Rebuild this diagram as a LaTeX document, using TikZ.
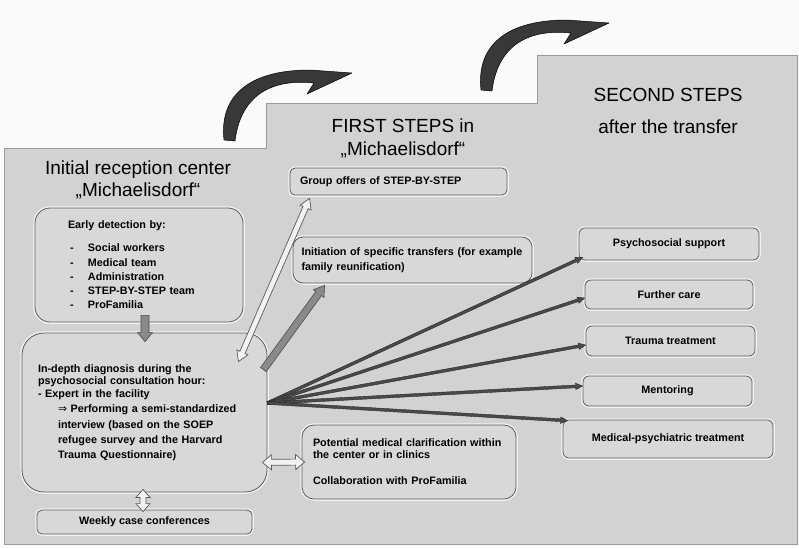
\documentclass[tikz,border=0pt]{standalone}
\usepackage{fontspec}
\setmainfont{Liberation Sans}
\newfontfamily\symfont{DejaVu Sans}
\usetikzlibrary{calc}
\definecolor{pagebg}{HTML}{FAFAFA}
\definecolor{stepbg}{HTML}{D2D2D2}
\definecolor{stepedge}{HTML}{9A9A9A}
\definecolor{boxfill}{HTML}{D8D8D8}
\definecolor{boxedge}{HTML}{5A5A5A}
\definecolor{arrowgray}{HTML}{8A8A8A}
\definecolor{fandark}{HTML}{4A4A4A}
\newcommand\boxfont{\bfseries\fontsize{10.8}{12.5}\selectfont}
\newcommand\titlefont{\fontsize{19}{22}\selectfont}
% single block arrow: style, tail, tip, shaft half width, head half width, head length
\newcommand\sarrow[6]{%
\draw[#1] ($(#2)!#4!90:(#3)$) -- ($(#3)!#6!(#2)!#4!-90:(#2)$) -- ($(#3)!#6!(#2)!#5!-90:(#2)$) -- (#3) -- ($(#3)!#6!(#2)!#5!90:(#2)$) -- ($(#3)!#6!(#2)!#4!90:(#2)$) -- ($(#2)!#4!-90:(#3)$) -- cycle;}
% double block arrow
\newcommand\darrow[6]{%
\draw[#1] (#2) -- ($(#2)!#6!(#3)!#5!90:(#3)$) -- ($(#2)!#6!(#3)!#4!90:(#3)$) -- ($(#3)!#6!(#2)!#4!-90:(#2)$) -- ($(#3)!#6!(#2)!#5!-90:(#2)$) -- (#3) -- ($(#3)!#6!(#2)!#5!90:(#2)$) -- ($(#3)!#6!(#2)!#4!90:(#2)$) -- ($(#2)!#6!(#3)!#4!-90:(#3)$) -- ($(#2)!#6!(#3)!#5!-90:(#3)$) -- cycle;}
\tikzset{
  box/.style={draw=boxedge, fill=boxfill, line width=0.8pt,
    preaction={draw=white, line width=3.5pt, opacity=0.75},
    font=\boxfont, inner sep=0pt},
  titletext/.style={font=\titlefont, align=center, inner sep=0pt},
  hollow/.style={fill=white!90!gray, draw=boxedge, line width=0.7pt},
  solidgray/.style={fill=arrowgray, draw=black!70, line width=0.6pt},
  fanarrow/.style={fill=fandark, draw=black!85, line width=0.4pt},
  curvearrow/.style={fill=black!78, draw=black, line width=0.5pt, line join=round},
}
\begin{document}
\begin{tikzpicture}[x=1pt,y=-1pt]
\useasboundingbox (0,0) rectangle (799,547);
\fill[pagebg] (0,0) rectangle (799,547);
% staircase background
\draw[stepedge, fill=stepbg, line width=0.8pt] (4,544) -- (4,148) -- (266,148) -- (266,103) -- (537,103) -- (537,55) -- (797,55) -- (797,544) -- cycle;
% curved transfer arrows
\path[curvearrow] (224,140) .. controls (219,95) and (250,70) .. (310,70) -- (352,73) -- (307,94) -- (314,83) .. controls (266,78) and (240,100) .. (235,141) -- cycle;
\begin{scope}[shift={(257,-50)}]
\path[curvearrow] (224,140) .. controls (219,95) and (250,70) .. (310,70) -- (352,73) -- (307,94) -- (314,83) .. controls (266,78) and (240,100) .. (235,141) -- cycle;
\end{scope}
% titles
\node[titletext] (t1) at (138,180) {Initial reception center\\„Michaelisdorf“};
\node[titletext] (t2) at (403,138) {FIRST STEPS in\\[1pt]„Michaelisdorf“};
\node[titletext] (t3) at (668,111) {SECOND STEPS\\[10pt]after the transfer};
% boxes, column 1
\node[box, rounded corners=15pt, minimum width=208pt, minimum height=114pt, text width=142pt, align=left,
  font={\bfseries\fontsize{10.8}{14.3}\selectfont}] (early) at (139,265)
  {Early detection by:\\[8.7pt]
   \hspace*{2pt}\makebox[18pt][l]{-}Social workers\\
   \hspace*{2pt}\makebox[18pt][l]{-}Medical team\\
   \hspace*{2pt}\makebox[18pt][l]{-}Administration\\
   \hspace*{2pt}\makebox[18pt][l]{-}STEP-BY-STEP team\\
   \hspace*{2pt}\makebox[18pt][l]{-}ProFamilia};
\node[box, rounded corners=22pt, minimum width=245pt, minimum height=159pt, text width=213pt, align=left] (indepth) at (144.5,412.5)
  {In-depth diagnosis during the\\
   psychosocial consultation hour:\\
   - Expert in the facility\\[2.5pt]
   \hspace*{20pt}{\symfont\mdseries ⇒} Performing a semi-standardized\\[3.3pt]
   \hspace*{20pt}interview (based on the SOEP\\[2.5pt]
   \hspace*{20pt}refugee survey and the Harvard\\[2.5pt]
   \hspace*{20pt}Trauma Questionnaire)};
\node[box, rounded corners=5pt, minimum width=215pt, minimum height=24pt] (weekly) at (144.5,522) {Weekly case conferences};
% boxes, column 2
\node[box, rounded corners=5pt, minimum width=217pt, minimum height=27pt, text width=197pt, align=left] (group) at (398.5,181.5) {Group offers of STEP-BY-STEP};
\node[box, rounded corners=10pt, minimum width=239pt, minimum height=46pt, text width=222pt, align=left,
  font={\bfseries\fontsize{10.8}{15}\selectfont}] (initiation) at (412.5,260)
  {Initiation of specific transfers (for example\\family reunification)};
\node[box, rounded corners=12pt, minimum width=214pt, minimum height=74pt, text width=192pt, align=left,
  font={\bfseries\fontsize{10.8}{12}\selectfont}] (potential) at (409,462)
  {Potential medical clarification within\\the center or in clinics\\[14pt]Collaboration with ProFamilia};
% boxes, column 3
\node[box, rounded corners=6pt, minimum width=180pt, minimum height=32pt] (psych) at (669,244) {Psychosocial support};
\node[box, rounded corners=6pt, minimum width=168pt, minimum height=29pt] (further) at (669,294.5) {Further care};
\node[box, rounded corners=6pt, minimum width=169pt, minimum height=30pt] (trauma) at (670.5,341) {Trauma treatment};
\node[box, rounded corners=6pt, minimum width=169pt, minimum height=30pt] (mentor) at (667.5,391) {Mentoring};
\node[box, rounded corners=6pt, minimum width=210pt, minimum height=38pt] (medical) at (668,439) {Medical-psychiatric treatment};
% connector end points
\coordinate (eA) at ($(early.south)+(6,-7)$);
\coordinate (eB) at ($(indepth.north)+(0.5,9)$);
\coordinate (wA) at ($(indepth.south)+(-1.5,-3)$);
\coordinate (wB) at ($(weekly.north)+(-1.5,2)$);
\coordinate (pA) at ($(indepth.south east)+(-5,-30)$);
\coordinate (pB) at ($(potential.west)+(3,0)$);
\coordinate (gA) at ($(indepth.north east)+(-29,29)$);
\coordinate (gB) at ($(group.south west)+(20,3)$);
\coordinate (iA) at ($(indepth.north east)+(-4,37)$);
\coordinate (iB) at ($(initiation.south west)+(32,2)$);
\coordinate (fan) at ($(indepth.east)+(0,-9.5)$);
\coordinate (f1) at ($(psych.south west)+(4,-3)$);
\coordinate (f2) at ($(further.west)+(0,3.5)$);
\coordinate (f3) at ($(trauma.west)+(0,4)$);
\coordinate (f4) at ($(mentor.west)+(0,-5)$);
\coordinate (f5) at ($(medical.north west)+(5,1)$);
% connectors
\sarrow{solidgray}{eA}{eB}{4pt}{7.5pt}{9pt}
\darrow{hollow}{wA}{wB}{3pt}{7pt}{8pt}
\darrow{hollow}{pA}{pB}{3pt}{7.5pt}{9pt}
\darrow{hollow}{gA}{gB}{2.8pt}{6pt}{10pt}
\sarrow{solidgray}{iA}{iB}{3.5pt}{6.5pt}{10pt}
\sarrow{fanarrow}{fan}{f1}{1.4pt}{3.2pt}{7pt}
\sarrow{fanarrow}{fan}{f2}{1.4pt}{3.2pt}{7pt}
\sarrow{fanarrow}{fan}{f3}{1.4pt}{3.2pt}{7pt}
\sarrow{fanarrow}{fan}{f4}{1.4pt}{3.2pt}{7pt}
\sarrow{fanarrow}{fan}{f5}{1.4pt}{3.2pt}{7pt}
\end{tikzpicture}
\end{document}
